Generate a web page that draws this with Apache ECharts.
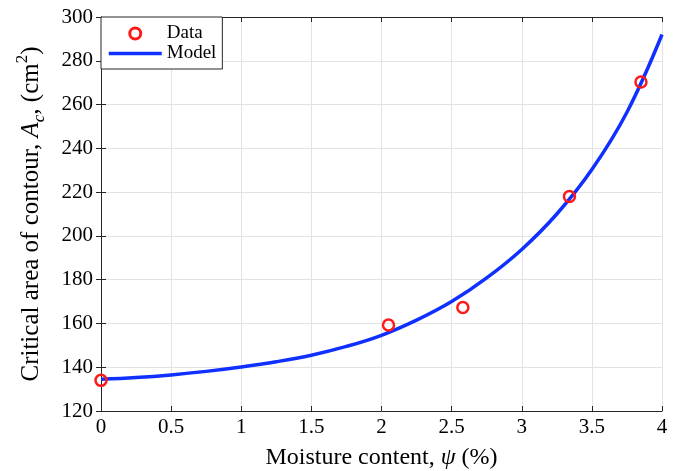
<!DOCTYPE html>
<html>
<head>
<meta charset="utf-8">
<script src="https://cdn.jsdelivr.net/npm/echarts@6/dist/echarts.min.js"></script>
<style>html,body{margin:0;padding:0;background:#fff}#c{width:684px;height:471px}</style>
</head>
<body>
<div id="c"></div>
<script>
// Measured data points (moisture %, critical area cm^2)
const dataX = [0, 2.05, 2.58, 3.34, 3.85];
const dataY = [134, 159.3, 167.3, 218, 270.3];
// Model curve
const modelX = [0, 0.25, 0.5, 0.75, 1, 1.25, 1.5, 1.75, 2, 2.25, 2.5, 2.75, 3, 3.25, 3.5, 3.75, 4];
const modelY = [134.5, 135.3, 136.5, 138.1, 140.1, 142.5, 145.5, 149.5, 154.6, 161.5, 170.0, 180.8, 193.8, 210.0, 230.3, 256.5, 292];
const xTicks = ['0','0.5','1','1.5','2','2.5','3','3.5','4'];
const yTicks = ['120','140','160','180','200','220','240','260','280','300'];

const font = 'Liberation Serif, Times New Roman, serif';
const axisColor = '#262626';
const lineColor = '#1030ff';
const chart = echarts.init(document.getElementById('c'), null, {renderer: 'canvas'});
const pts = dataX.map((x, i) => [x, dataY[i]]);
const model = modelX.map((x, i) => [x, modelY[i]]);

const baseX = {
  type: 'value', min: 0, max: 4, interval: 0.5,
  axisLine: {show: true, lineStyle: {color: axisColor, width: 1}},
  axisTick: {show: true, inside: true, length: 5, lineStyle: {color: axisColor}},
  splitLine: {show: false}
};
const baseY = {
  type: 'value', min: 120, max: 300, interval: 20,
  axisLine: {show: true, lineStyle: {color: axisColor, width: 1}},
  axisTick: {show: true, inside: true, length: 5, lineStyle: {color: axisColor}},
  splitLine: {show: false}
};

chart.setOption({
  animation: false,
  backgroundColor: '#fff',
  grid: {left: 101, right: 22, top: 17, bottom: 60, containLabel: false, outerBoundsMode: 'none'},
  legend: {
    left: 101, top: 17,
    orient: 'vertical',
    backgroundColor: '#fff',
    borderColor: axisColor, borderWidth: 1,
    padding: [7, 6, 6, 6],
    itemGap: 1,
    itemWidth: 53, itemHeight: 11,
    textStyle: {fontFamily: font, fontSize: 19, color: '#000'},
    data: [
      {name: 'Data', itemStyle: {color: 'rgba(0,0,0,0)', borderColor: '#ff1a1a', borderWidth: 3}},
      {name: 'Model', itemStyle: {opacity: 0, color: 'rgba(0,0,0,0)', borderWidth: 0},
       lineStyle: {width: 3.5, color: lineColor}}
    ]
  },
  xAxis: [
    Object.assign({}, baseX, {
      position: 'bottom',
      name: 'Moisture content, {i|ψ} (%)',
      nameLocation: 'middle', nameGap: 35,
      nameTextStyle: {fontFamily: font, fontSize: 24, color: '#000',
        rich: {i: {fontFamily: font, fontSize: 24, fontStyle: 'italic', color: '#000'}}},
      axisLabel: {fontFamily: font, fontSize: 21, color: '#000', margin: 6,
        formatter: v => xTicks[Math.round(v / 0.5)]},
      splitLine: {show: true, lineStyle: {color: '#e3e3e3', width: 1}}
    }),
    Object.assign({}, baseX, {position: 'top', axisLabel: {show: false}})
  ],
  yAxis: [
    Object.assign({}, baseY, {
      position: 'left',
      name: 'Critical area of contour, {i|A}{sub|c}, (cm{sup|2})',
      nameLocation: 'middle', nameGap: 53,
      nameTextStyle: {fontFamily: font, fontSize: 25, color: '#000', lineHeight: 34,
        rich: {
          i: {fontFamily: font, fontSize: 25, fontStyle: 'italic', color: '#000', lineHeight: 34},
          sub: {fontFamily: font, fontSize: 17, fontStyle: 'italic', color: '#000', verticalAlign: 'bottom', lineHeight: 34},
          sup: {fontFamily: font, fontSize: 17, color: '#000', verticalAlign: 'top', lineHeight: 34}
        }},
      axisLabel: {fontFamily: font, fontSize: 21, color: '#000', margin: 8,
        formatter: v => yTicks[Math.round((v - 120) / 20)]},
      splitLine: {show: true, lineStyle: {color: '#e3e3e3', width: 1}}
    }),
    Object.assign({}, baseY, {position: 'right', axisLabel: {show: false}})
  ],
  series: [
    {
      name: 'Model', type: 'line', data: model, smooth: 0.4,
      showSymbol: false, symbol: 'none',
      lineStyle: {color: lineColor, width: 3.5},
      itemStyle: {color: lineColor}, z: 2
    },
    {
      name: 'Data', type: 'scatter', data: pts,
      symbol: 'circle', symbolSize: 11,
      itemStyle: {color: 'rgba(0,0,0,0)', borderColor: '#ff1a1a', borderWidth: 2.5, opacity: 1},
      z: 3
    }
  ]
});
</script>
</body>
</html>
